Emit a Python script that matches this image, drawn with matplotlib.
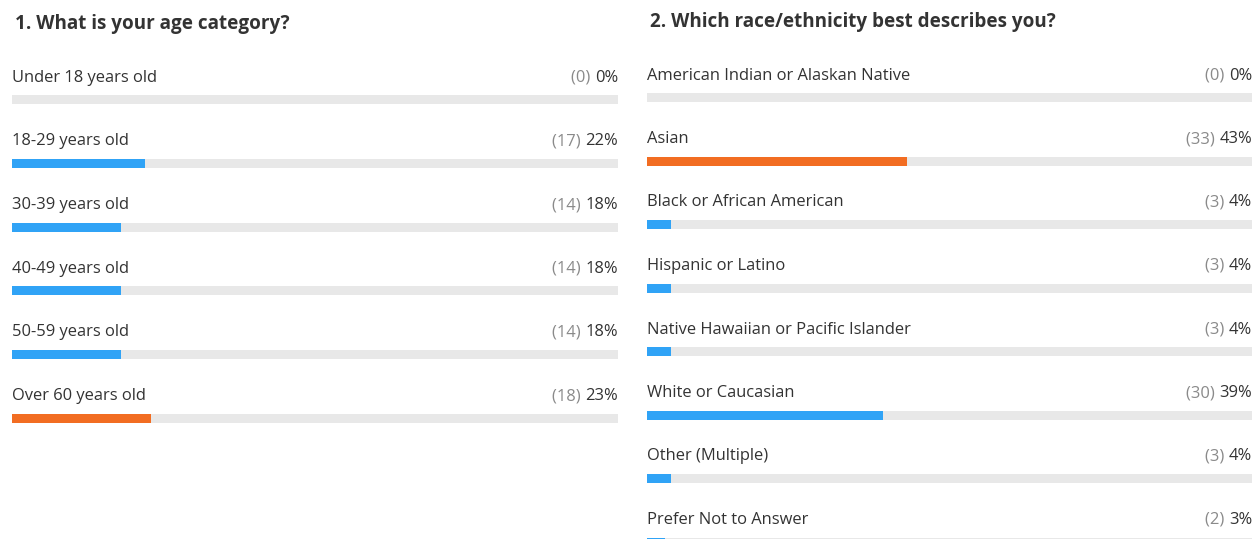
import matplotlib
matplotlib.use("Agg")
import matplotlib.pyplot as plt

# ---- data ----
age_title = "1. What is your age category?"
age_categories = ["Under 18 years old", "18-29 years old", "30-39 years old",
                  "40-49 years old", "50-59 years old", "Over 60 years old"]
age_counts = [0, 17, 14, 14, 14, 18]
age_percents = [0, 22, 18, 18, 18, 23]

race_title = "2. Which race/ethnicity best describes you?"
race_categories = ["American Indian or Alaskan Native", "Asian",
                   "Black or African American", "Hispanic or Latino",
                   "Native Hawaiian or Pacific Islander", "White or Caucasian",
                   "Other (Multiple)", "Prefer Not to Answer"]
race_counts = [0, 33, 3, 3, 3, 30, 3, 2]
race_percents = [0, 43, 4, 4, 4, 39, 4, 3]

BLUE = "#30A3F6"
ORANGE = "#F26D22"
TRACK = "#E8E8E8"
TEXT = "#333333"
MUTED = "#8A8A8A"

plt.rcParams['font.family'] = ['Open Sans', 'DejaVu Sans']

W, H = 1260, 539
fig = plt.figure(figsize=(W / 100, H / 100), dpi=100)
fig.patch.set_facecolor("white")


def panel(x0, x1, first_center, step, title, title_y, cats, counts, pcts):
    ax = fig.add_axes([x0 / W, 0, (x1 - x0) / W, 1])
    ax.set_xlim(0, 100)
    ax.set_ylim(H, 0)
    ax.axis("off")
    ys = [first_center + i * step for i in range(len(cats))]
    mx = max(pcts)
    colors = [ORANGE if p == mx else BLUE for p in pcts]
    ax.barh(ys, [100] * len(cats), height=9, color=TRACK, left=0)
    ax.barh(ys, pcts, height=9, color=colors, left=0)
    ax.text(0.5, title_y, title, fontsize=13.6, fontweight="bold", color=TEXT,
            va="center", ha="left")
    for y, c, n, p in zip(ys, cats, counts, pcts):
        ax.text(0, y - 22, c, fontsize=11.9, color=TEXT, va="center", ha="left")
        t = ax.text(100, y - 22, f"{p}%", fontsize=11.9, color=TEXT,
                    va="center", ha="right")
        ax.annotate(f"({n}) ", xy=(0, 0.5), xycoords=t, fontsize=11.9,
                    color=MUTED, va="center", ha="right")
    return ax


panel(12, 618, 99.5, 63.75, age_title, 24, age_categories, age_counts, age_percents)
panel(647, 1252, 97.5, 63.5, race_title, 22, race_categories, race_counts, race_percents)

fig.savefig("out.png", dpi=100, facecolor="white")
